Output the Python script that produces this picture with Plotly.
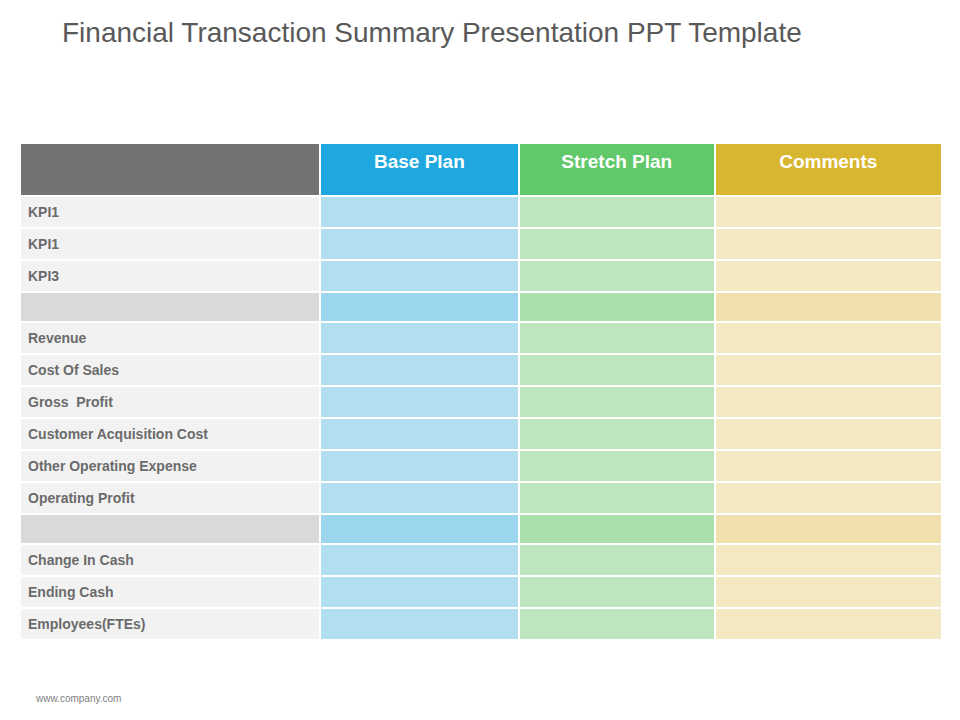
import plotly.graph_objects as go

headers = ["", "Base Plan", "Stretch Plan", "Comments"]
row_labels = ["KPI1", "KPI1", "KPI3", "", "Revenue", "Cost Of Sales", "Gross  Profit",
              "Customer Acquisition Cost", "Other Operating Expense", "Operating Profit", "",
              "Change In Cash", "Ending Cash", "Employees(FTEs)"]
separator_rows = [3, 10]

header_colors = ["#737373", "#1fa8e0", "#62c96b", "#d9b62f"]
normal_colors = ["#f2f2f2", "#b1dff0", "#bde6bf", "#f5e9c4"]
sep_colors = ["#d9d9d9", "#9bd6ee", "#a9e0ac", "#f0e0ae"]

n = len(row_labels)
fills = [[(sep_colors[c] if i in separator_rows else normal_colors[c]) for i in range(n)] for c in range(4)]
empty = [""] * n

fig = go.Figure(go.Table(
    domain=dict(x=[12/960, 934/960], y=[0.1, 1-135/720]),
    columnwidth=[299, 199, 195, 227],
    header=dict(values=[f"<b>{h}</b>" for h in headers], fill_color=header_colors,
                font=dict(color="white", size=19, family="Arial"), align="center",
                height=53, line=dict(color="white", width=2)),
    cells=dict(values=[[f"<b>{l}</b>" for l in row_labels], empty, empty, empty],
               fill_color=fills, font=dict(color="#6b6b6b", size=14, family="Arial"),
               align="left", height=30.1, line=dict(color="white", width=2)),
))
fig.update_layout(
    width=960, height=720, margin=dict(l=0, r=0, t=0, b=0),
    paper_bgcolor="white",
    annotations=[
        dict(text="Financial Transaction Summary Presentation PPT Template", x=52/960, y=1-25/720,
             xref="paper", yref="paper", xanchor="left", yanchor="middle", showarrow=False,
             font=dict(size=28, color="#595959", family="Arial")),
        dict(text="www.company.com", x=25/960, y=1-690/720, xref="paper", yref="paper",
             xanchor="left", yanchor="middle", showarrow=False,
             font=dict(size=10, color="#7f7f7f", family="Arial")),
    ],
)
fig.write_html("out.html")
